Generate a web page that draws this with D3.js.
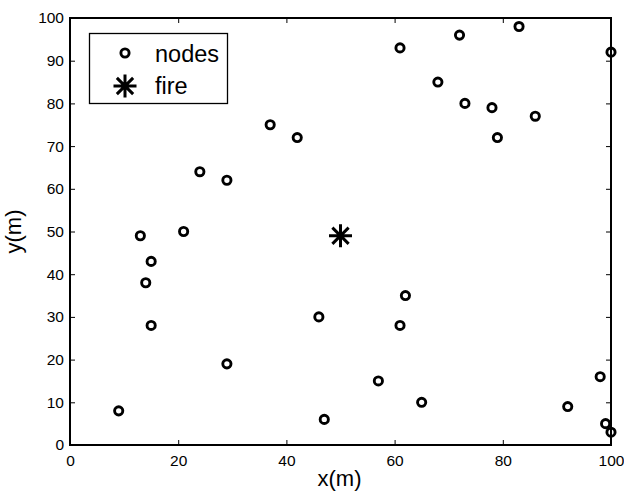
<!DOCTYPE html>
<html>
<head>
<meta charset="utf-8">
<script src="https://cdn.jsdelivr.net/npm/d3@7"></script>
<style>
  html, body { margin: 0; padding: 0; background: #fff; }
  svg { display: block; font-family: "Liberation Sans", Arial, Helvetica, sans-serif; }
</style>
</head>
<body>
<svg id="chart" width="624" height="495"></svg>
<script>
// ---- data ----
const nodeX = [9, 13, 14, 15, 15, 21, 24, 29, 29, 37, 42, 46, 47, 57, 61, 61, 62, 65, 68, 72, 73, 78, 79, 83, 86, 92, 98, 99, 100, 100];
const nodeY = [8, 49, 38, 43, 28, 50, 64, 62, 19, 75, 72, 30, 6, 15, 93, 28, 35, 10, 85, 96, 80, 79, 72, 98, 77, 9, 16, 5, 92, 3];
const fireX = [50];
const fireY = [49];
const xTicks = [0, 20, 40, 60, 80, 100];
const yTicks = [0, 10, 20, 30, 40, 50, 60, 70, 80, 90, 100];
const legendLabels = ["nodes", "fire"];
const xLabel = "x(m)";
const yLabel = "y(m)";

// ---- layout ----
const svg = d3.select("#chart");
const L = 70, R = 611, T = 18, B = 445;
const x = d3.scaleLinear().domain([0, 100]).range([L, R]);
const y = d3.scaleLinear().domain([0, 100]).range([B, T]);

// frame
svg.append("rect").attr("x", L).attr("y", T).attr("width", R - L).attr("height", B - T)
  .attr("fill", "none").attr("stroke", "#000").attr("stroke-width", 2);

// axes (ticks inward)
const xAxis = d3.axisBottom(x).tickValues(xTicks).tickSizeInner(-5).tickSizeOuter(0).tickPadding(10);
const yAxis = d3.axisLeft(y).tickValues(yTicks).tickSizeInner(-5).tickSizeOuter(0).tickPadding(6);
const xTop = d3.axisTop(x).tickValues(xTicks).tickSizeInner(-5).tickSizeOuter(0).tickFormat("");
const yRight = d3.axisRight(y).tickValues(yTicks).tickSizeInner(-5).tickSizeOuter(0).tickFormat("");

function styleAxis(g) {
  g.select(".domain").remove();
  g.selectAll(".tick line").attr("stroke", "#000").attr("stroke-width", 1);
  g.selectAll("text").attr("fill", "#000").style("font-size", "15.5px")
   .style("font-family", "'Liberation Sans', Arial, Helvetica, sans-serif");
}
svg.append("g").attr("transform", `translate(0,${B})`).call(xAxis).call(styleAxis);
svg.append("g").attr("transform", `translate(${L},0)`).call(yAxis).call(styleAxis);
svg.append("g").attr("transform", `translate(0,${T})`).call(xTop).call(styleAxis);
svg.append("g").attr("transform", `translate(${R},0)`).call(yRight).call(styleAxis);

// axis labels
svg.append("text").attr("x", (L + R) / 2 - 1).attr("y", 486).attr("text-anchor", "middle")
  .style("font-size", "22px").text(xLabel);
svg.append("text").attr("transform", `translate(21,${(T + B) / 2}) rotate(-90)`)
  .attr("text-anchor", "middle").style("font-size", "22px").text(yLabel);

// star marker path
function starPath(cx, cy, r) {
  const d = r * Math.SQRT1_2;
  return `M${cx - r},${cy}L${cx + r},${cy}M${cx},${cy - r}L${cx},${cy + r}` +
         `M${cx - d},${cy - d}L${cx + d},${cy + d}M${cx - d},${cy + d}L${cx + d},${cy - d}`;
}

// nodes
const nodes = nodeX.map((v, i) => ({ x: v, y: nodeY[i] }));
svg.append("g").selectAll("circle").data(nodes).join("circle")
  .attr("cx", d => x(d.x)).attr("cy", d => y(d.y)).attr("r", 4.1)
  .attr("fill", "none").attr("stroke", "#000").attr("stroke-width", 2.9);

// fire
const fire = fireX.map((v, i) => ({ x: v, y: fireY[i] }));
svg.append("g").selectAll("path").data(fire).join("path")
  .attr("d", d => starPath(x(d.x), y(d.y), 11.5))
  .attr("fill", "none").attr("stroke", "#000").attr("stroke-width", 3);

// legend
const lg = svg.append("g");
lg.append("rect").attr("x", 89.5).attr("y", 33.5).attr("width", 138).attr("height", 70)
  .attr("fill", "#fff").attr("stroke", "#000").attr("stroke-width", 1.3);
lg.append("circle").attr("cx", 125).attr("cy", 53).attr("r", 4.1)
  .attr("fill", "none").attr("stroke", "#000").attr("stroke-width", 2.9);
lg.append("path").attr("d", starPath(125, 86, 11.5))
  .attr("fill", "none").attr("stroke", "#000").attr("stroke-width", 3);
lg.selectAll("text").data(legendLabels).join("text")
  .attr("x", 155).attr("y", (d, i) => 62 + i * 32)
  .style("font-size", "23.5px").text(d => d);
</script>
</body>
</html>
